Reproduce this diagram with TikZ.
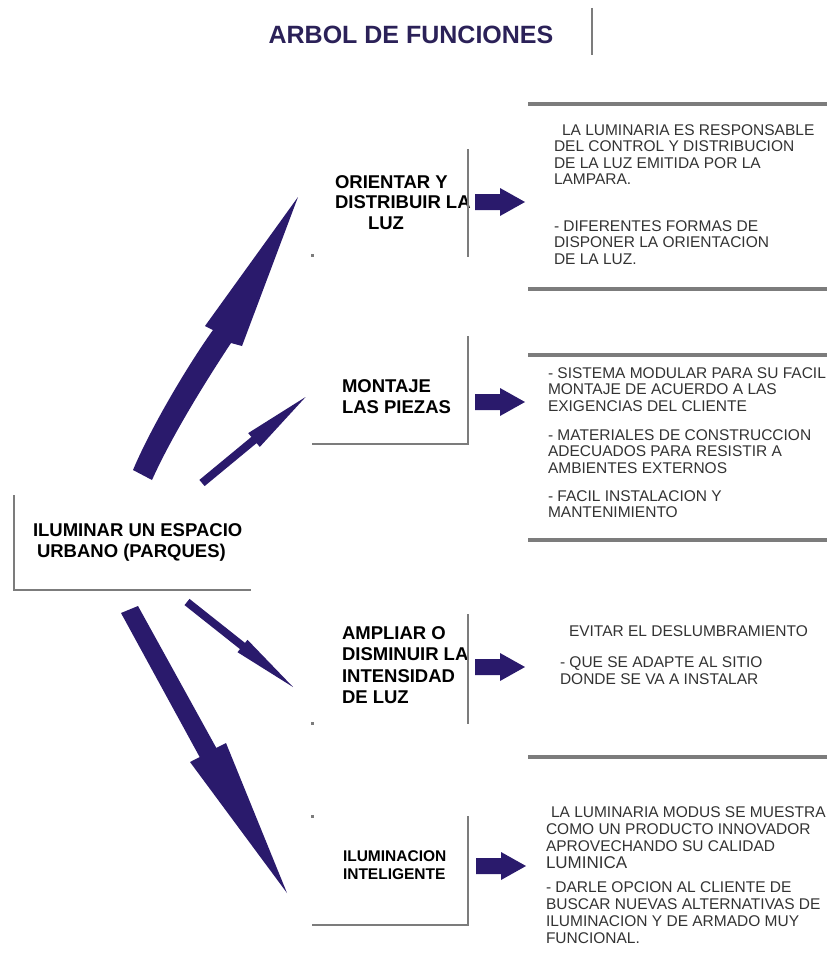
\documentclass[tikz,border=0pt]{standalone}
\usepackage{fontspec}
\setmainfont{Liberation Sans}
\definecolor{navy}{HTML}{2A1A6C}
\definecolor{titlenavy}{HTML}{2B2158}
\definecolor{linegray}{HTML}{7C7C7C}
\definecolor{notegray}{HTML}{333333}
\begin{document}
\begin{tikzpicture}[x=1pt,y=-1pt,
  every node/.style={inner sep=0pt, outer sep=0pt},
  rule/.style={draw=linegray, line width=3.5pt},
  frame/.style={draw=linegray, line width=2.5pt},
  heading/.style={font=\fontsize{18.5}{#1}\selectfont\bfseries, text=black, align=left, anchor=north west},
  notes/.style={font=\fontsize{15.5}{#1}\selectfont, text=notegray, align=left, anchor=north west},
  bolt/.style={fill=navy},
  blockarrow/.pic={\fill[navy] (0,-8) -- (25,-8) -- (25,-14) -- (50,0) -- (25,14) -- (25,8) -- (0,8) -- cycle;}
]
\useasboundingbox (0,0) rectangle (827,966);

% title
\node[font=\fontsize{25}{25}\selectfont\bfseries, text=titlenavy] (title) at (411,35) {ARBOL DE FUNCIONES};
\draw[draw=linegray, line width=2pt] (592,8) -- (592,55);

% root
\node[heading=21.5] (root) at (33,523.4) {ILUMINAR UN ESPACIO\\\hspace{4pt}URBANO (PARQUES)};
\draw[frame] (14,495) -- (14,590) -- (251,590);

% first function
\node[heading=20.5] (orient) at (335,175.4) {ORIENTAR Y\\DISTRIBUIR LA\\\hspace{33pt}LUZ};
\draw[frame] (468,149) -- (468,257);
\fill[linegray] (311,254) rectangle (314,257);
\pic at (475,202) {blockarrow};

% second function
\node[heading=21] (montaje) at (342,379.4) {MONTAJE\\LAS PIEZAS};
\draw[frame] (468,336) -- (468,444) -- (312,444);
\pic at (475,402) {blockarrow};

% third function
\node[heading=21.5] (ampliar) at (342,626.4) {AMPLIAR O\\DISMINUIR LA\\INTENSIDAD\\DE LUZ};
\draw[frame] (468,614) -- (468,724);
\fill[linegray] (311,722) rectangle (314,725);
\pic at (475,667) {blockarrow};

% fourth function
\node[heading=18.5, font=\fontsize{15.5}{18.5}\selectfont\bfseries] (intel) at (343,850.5) {ILUMINACION\\INTELIGENTE};
\draw[frame] (468,816) -- (468,925) -- (312,925);
\fill[linegray] (311,815) rectangle (314,818);
\pic at (476,866) {blockarrow};

% description rules
\draw[rule] (528,104) -- (827,104);
\draw[rule] (528,289) -- (827,289);
\draw[rule] (528,355) -- (827,355);
\draw[rule] (528,540) -- (827,540);
\draw[rule] (528,757) -- (827,757);

% descriptions
\node[notes=16.5] (d1) at (554,124.5) {\hspace{8pt}LA LUMINARIA ES RESPONSABLE\\DEL CONTROL Y DISTRIBUCION\\DE LA LUZ EMITIDA POR LA\\LAMPARA.\\[30pt]- DIFERENTES FORMAS DE\\DISPONER LA ORIENTACION\\DE LA LUZ.};
\node[notes=16.5] (d2) at (548,367.5) {- SISTEMA MODULAR PARA SU FACIL\\MONTAJE DE ACUERDO A LAS\\EXIGENCIAS DEL CLIENTE\\[12.5pt]- MATERIALES DE CONSTRUCCION\\ADECUADOS PARA RESISTIR A\\AMBIENTES EXTERNOS\\[11.5pt]- FACIL INSTALACION Y\\MANTENIMIENTO};
\node[notes=17] (d3) at (560,626) {\hspace{9pt}EVITAR EL DESLUMBRAMIENTO\\[14pt]- QUE SE ADAPTE AL SITIO\\DONDE SE VA A INSTALAR};
\node[notes=17] (d4) at (546,806.5) {\hspace{5pt}LA LUMINARIA MODUS SE MUESTRA\\COMO UN PRODUCTO INNOVADOR\\APROVECHANDO SU CALIDAD\\{\fontsize{17}{17}\selectfont LUMINICA}\\[7pt]- DARLE OPCION AL CLIENTE DE\\BUSCAR NUEVAS ALTERNATIVAS DE\\ILUMINACION Y DE ARMADO MUY\\FUNCIONAL.};

% branching arrows from the root
\fill[bolt] (133,470) -- (152,480) .. controls (170,440) and (200,390) .. (231,343)
  -- (242,346) -- (298,197) -- (205,326) -- (213,330)
  .. controls (190,362) and (152,425) .. (133,470) -- cycle;
\fill[bolt] (199.4,479.9) -- (204.6,486.1) -- (256.6,443.1) -- (259.8,446.9)
  -- (305.6,397) -- (248.2,433.1) -- (251.4,436.9) -- cycle;
\fill[bolt] (189.5,598.9) -- (184.5,605.1) -- (240,649.1) -- (237.5,652.2)
  -- (293,687) -- (247.5,639.8) -- (245,642.9) -- cycle;
\fill[bolt] (138,606) -- (121,613) -- (199.7,757.1) -- (190,762)
  -- (287,893) -- (226,743) -- (216.3,747.9) -- cycle;
\end{tikzpicture}
\end{document}
